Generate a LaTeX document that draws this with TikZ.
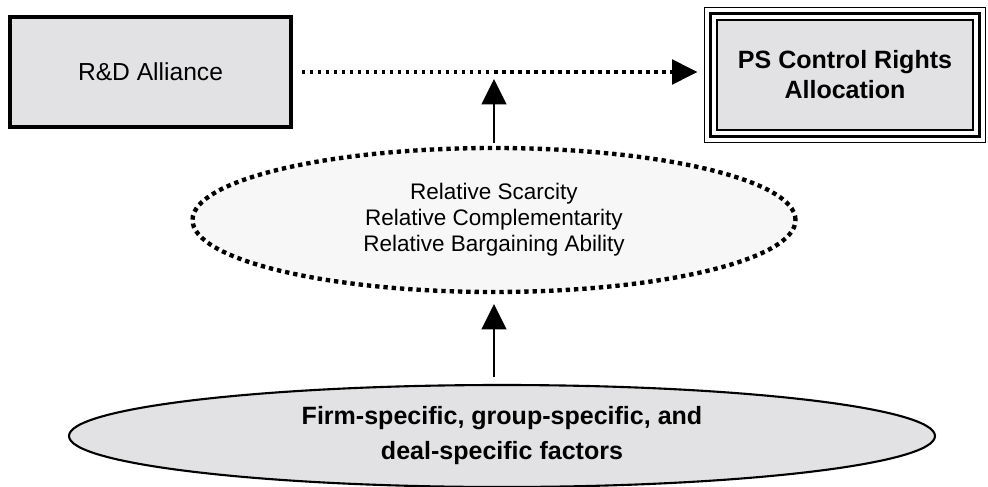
\documentclass[tikz,border=0pt]{standalone}
\usepackage{fontspec}
\setmainfont{Liberation Sans}
\usepackage{tikz}
\usetikzlibrary{arrows.meta,positioning,shapes.geometric}
\definecolor{marble}{HTML}{E2E2E4}
\definecolor{haze}{HTML}{F7F7F7}
\newcommand{\pix}{0.025cm}

\begin{document}
\begin{tikzpicture}[x=\pix, y=-\pix,
  marblebox/.style={draw, fill=marble, inner sep=0pt, align=center},
  bigtip/.style={-{Triangle[length=18pt,width=17.5pt]}},
  dotline/.style={line width=2.5pt, dash pattern=on 2.5pt off 3.2pt},
  dotrim/.style={line width=3.1pt, dash pattern=on 3.1pt off 2.8pt},
  uparrow/.style={bigtip, line width=1.7pt}]
  \path[use as bounding box] (0,0) rectangle (988,487);

  % --- Top row ---
  \node[marblebox, line width=2.3pt, minimum width=281*\pix, minimum height=110*\pix,
        font=\fontsize{17.5}{21}\selectfont] (rd) at (150.5,72) {R\&D Alliance};
  \node[marblebox, line width=0.9pt, minimum width=256*\pix, minimum height=110*\pix,
        font=\bfseries\fontsize{17.8}{21.3}\selectfont] (ps) at (845,75)
        {PS Control Rights\\Allocation};
  % thin-thick-thin frame round the result box
  \draw[line width=2.4pt] ([shift={(-6,-6)}]ps.north west) rectangle ([shift={(6,6)}]ps.south east);
  \draw[line width=0.9pt] ([shift={(-12,-12)}]ps.north west) rectangle ([shift={(12,12)}]ps.south east);

  % --- Middle: mechanisms ---
  \node[ellipse, draw, fill=haze, dotrim, minimum width=603*\pix, minimum height=144*\pix,
        inner sep=0pt, align=center, font=\fontsize{16}{18.6}\selectfont] (rel) at (494,220)
        {Relative Scarcity\\Relative Complementarity\\Relative Bargaining Ability};

  % --- Bottom: factors ---
  \node[ellipse, draw, fill=marble, line width=1.5pt, minimum width=866*\pix, minimum height=102*\pix,
        inner sep=0pt, align=center, font=\bfseries\fontsize{17.8}{24.9}\selectfont] (fac) at (502,436)
        {Firm-specific, group-specific, and\\deal-specific factors};

  % Arrows
  \draw[dotline, bigtip, shorten <=6.4pt, shorten >=13.5pt] (rd.east) -- (ps.west |- rd.east);
  \draw[uparrow, shorten <=2pt, shorten >=5pt] (rel.north) -- (rel.north |- rd.east);
  \draw[uparrow, shorten <=5pt, shorten >=7pt] (rel.south |- fac.north) -- (rel.south);
\end{tikzpicture}
\end{document}
